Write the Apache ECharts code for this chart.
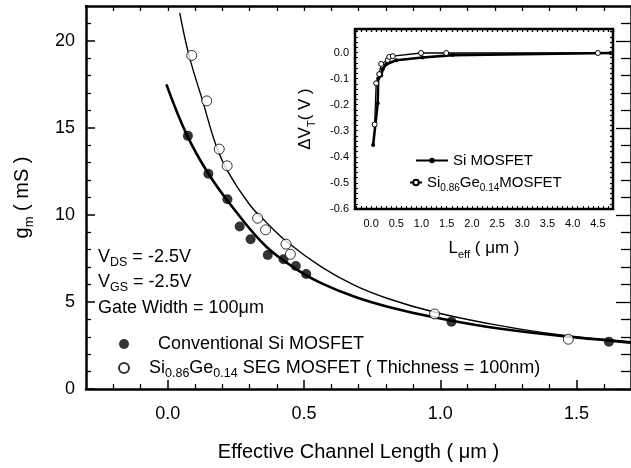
<!DOCTYPE html>
<html>
<head>
<meta charset="utf-8">
<script src="https://cdn.jsdelivr.net/npm/echarts@6/dist/echarts.min.js"></script>
<style>html,body{margin:0;padding:0;background:#fff}#chart{width:631px;height:468px}</style>
</head>
<body>
<div id="chart"></div>
<script>
var font = '"Liberation Sans", Arial, sans-serif';

// main panel : gm (mS) vs effective channel length (um)
var mainTicksX = [0, 0.5, 1.0, 1.5];
var mainTicksY = [0, 5, 10, 15, 20];
var siPoints = [[0.074,14.54],[0.149,12.36],[0.219,10.9],[0.264,9.33],[0.304,8.6],[0.367,7.7],[0.425,7.45],[0.47,7.07],[0.508,6.61],[1.041,3.87],[1.619,2.72]];
var sigePoints = [[0.088,19.16],[0.143,16.55],[0.189,13.78],[0.218,12.82],[0.33,9.81],[0.359,9.14],[0.434,8.32],[0.45,7.74],[0.979,4.31],[1.47,2.86]];
var siFit = [[-0.005,17.5],[0.07,14.6],[0.15,12.35],[0.24,10.4],[0.36,8.2],[0.48,6.8],[0.565,6.07],[0.686,5.3],[0.807,4.73],[0.977,4.12],[1.17,3.58],[1.413,3.1],[1.7,2.66]];
var sigeFit = [[0.044,21.6],[0.078,19.16],[0.128,16.55],[0.177,14.0],[0.22,12.5],[0.3,10.6],[0.36,9.6],[0.444,8.37],[0.565,7.0],[0.686,5.95],[0.807,5.2],[0.977,4.42],[1.17,3.78],[1.413,3.16],[1.7,2.72]];

// inset : delta VT (V) vs Leff (um)
var insetTicksX = [0, 0.5, 1.0, 1.5, 2.0, 2.5, 3.0, 3.5, 4.0, 4.5];
var insetTicksY = [-0.6, -0.5, -0.4, -0.3, -0.2, -0.1, 0.0];
var siInset = [[0.04,-0.355],[0.13,-0.195],[0.14,-0.10],[0.2,-0.088],[0.23,-0.064],[0.3,-0.045],[0.5,-0.03],[1.02,-0.019],[1.62,-0.01],[4.75,-0.002]];
var sigeInset = [[0.07,-0.276],[0.1,-0.118],[0.16,-0.083],[0.2,-0.044],[0.33,-0.029],[0.36,-0.017],[0.43,-0.014],[0.99,-0.002],[1.49,-0.002],[4.5,-0.002]];

function steps(from, to, step, skip) {
  var a = [];
  for (var i = 0; from + i * step <= to + 1e-9; i++) {
    var v = Math.round((from + i * step) * 1000) / 1000;
    if (!skip || skip.indexOf(v) < 0) a.push(v);
  }
  return a;
}

var black = '#000';
function sub(size, lh, subSize) {
  return {
    n: {fontSize: size, fontFamily: font, color: black, lineHeight: lh},
    s: {fontSize: subSize, fontFamily: font, color: black, verticalAlign: 'bottom'}
  };
}

// tick-only axes (minor ticks, mirrored sides)
function tickAxis(grid, pos, min, max, ticks, len, lineShow) {
  return {
    type: 'value', gridIndex: grid, position: pos, min: min, max: max,
    axisLine: {show: lineShow, onZero: false, lineStyle: {color: black, width: 2.5}},
    axisTick: {show: true, inside: true, length: len, customValues: ticks, lineStyle: {color: black, width: 1.3}},
    axisLabel: {show: false}, splitLine: {show: false}
  };
}

var chart = echarts.init(document.getElementById('chart'));

var mainX = {
  type: 'value', gridIndex: 0, position: 'bottom', min: -0.3, max: 1.7,
  axisLine: {onZero: false, lineStyle: {color: black, width: 2.5}},
  axisTick: {inside: true, length: 9, customValues: mainTicksX, lineStyle: {color: black, width: 1.5}},
  axisLabel: {customValues: mainTicksX, margin: 16, fontSize: 18, fontFamily: font, color: black,
    formatter: function (v) { return v.toFixed(1); }},
  splitLine: {show: false},
  name: 'Effective Channel Length ( \u03bcm )', nameLocation: 'middle', nameGap: 53,
  nameTextStyle: {fontSize: 20, fontFamily: font, color: black}
};
var mainY = {
  type: 'value', gridIndex: 0, position: 'left', min: 0, max: 22,
  axisLine: {onZero: false, lineStyle: {color: black, width: 2.5}},
  axisTick: {inside: true, length: 9, customValues: mainTicksY, lineStyle: {color: black, width: 1.5}},
  axisLabel: {customValues: mainTicksY, margin: 11, fontSize: 18, fontFamily: font, color: black},
  splitLine: {show: false},
  name: '{n|g}{s|m}{n| ( mS )}', nameLocation: 'middle', nameGap: 50, nameRotate: 90,
  nameTextStyle: {rich: sub(20, 28, 13)}
};
var insetX = {
  type: 'value', gridIndex: 1, position: 'bottom', min: -0.32, max: 4.8,
  axisLine: {show: false, onZero: false},
  axisTick: {inside: true, length: 3, customValues: steps(-0.3, 4.8, 0.1), lineStyle: {color: black, width: 1}},
  axisLabel: {customValues: insetTicksX, margin: 9, fontSize: 11, fontFamily: font, color: black,
    formatter: function (v) { return v.toFixed(1); }},
  splitLine: {show: false},
  name: '{n|L}{s|eff}{n| ( \u03bcm )}', nameLocation: 'middle', nameGap: 27,
  nameTextStyle: {rich: sub(17, 24, 11)}
};
var insetY = {
  type: 'value', gridIndex: 1, position: 'left', min: -0.6, max: 0.09,
  axisLine: {show: false, onZero: false},
  axisTick: {inside: true, length: 3, customValues: steps(-0.58, 0.08, 0.02), lineStyle: {color: black, width: 1}},
  axisLabel: {customValues: insetTicksY, margin: 6, fontSize: 11, fontFamily: font, color: black,
    formatter: function (v) { return v.toFixed(1); }},
  splitLine: {show: false},
  name: '{n|\u0394V}{s|T}{n|( V )}', nameLocation: 'middle', nameGap: 38, nameRotate: 90,
  nameTextStyle: {rich: sub(17, 24, 11)}
};

var legendText = {
  'Conventional Si MOSFET': '{g1|}{n|Conventional Si MOSFET}',
  'SiGe SEG': '{g2|}{n|Si}{s|0.86}{n|Ge}{s|0.14}{n| SEG MOSFET ( Thichness = 100nm)}',
  'Si MOSFET': '{m|Si MOSFET}',
  'SiGe inset': '{m|Si}{t|0.86}{m|Ge}{t|0.14}{m|MOSFET}'
};
var textRich = {
  n: {fontSize: 18, fontFamily: font, color: black, lineHeight: 25},
  s: {fontSize: 12.5, fontFamily: font, color: black, verticalAlign: 'bottom'},
  m: {fontSize: 15, fontFamily: font, color: black, lineHeight: 21},
  t: {fontSize: 10, fontFamily: font, color: black, verticalAlign: 'bottom'},
  g1: {width: 24}, g2: {width: 15}
};
function legend(name, left, top, w, h) {
  return {
    data: [name], left: left, top: top, itemWidth: w, itemHeight: h, padding: 0,
    selectedMode: false, formatter: function (n) { return legendText[n]; },
    textStyle: {rich: textRich}
  };
}

var option = {
  animation: false,
  backgroundColor: '#fff',
  grid: [
    {left: 86, top: 6, right: -4, height: 383},
    {left: 355, top: 29, width: 258, height: 180, show: true, borderColor: black, borderWidth: 2.5, backgroundColor: 'transparent'}
  ],
  xAxis: [
    mainX,
    tickAxis(0, 'bottom', -0.3, 1.7, steps(-0.2, 1.6, 0.1, mainTicksX), 5, false),
    tickAxis(0, 'top', -0.3, 1.7, steps(-0.2, 1.6, 0.1), 5, true),
    insetX,
    tickAxis(1, 'top', -0.32, 4.8, steps(-0.3, 4.8, 0.1), 3, false)
  ],
  yAxis: [
    mainY,
    tickAxis(0, 'left', 0, 22, steps(1, 21, 1, mainTicksY), 5, false),
    tickAxis(0, 'right', 0, 22, mainTicksY, 15, true),
    tickAxis(0, 'right', 0, 22, steps(1, 21, 1, mainTicksY), 10, false),
    insetY,
    tickAxis(1, 'right', -0.6, 0.09, steps(-0.58, 0.08, 0.02), 3, false)
  ],
  legend: [
    legend('Conventional Si MOSFET', 119, 335, 10, 10),
    legend('SiGe SEG', 118, 359, 10, 10),
    legend('Si MOSFET', 415, 153, 32, 7),
    legend('SiGe inset', 409, 175, 12, 7)
  ],
  graphic: [
    {type: 'text', left: 98, top: 248, style: {text: '{n|V}{s|DS}{n| = -2.5V}', rich: textRich}},
    {type: 'text', left: 98, top: 273, style: {text: '{n|V}{s|GS}{n| = -2.5V}', rich: textRich}},
    {type: 'text', left: 98, top: 299, style: {text: '{n|Gate Width = 100\u03bcm}', rich: textRich}}
  ],
  series: [
    {type: 'line', xAxisIndex: 0, yAxisIndex: 0, data: siFit, smooth: 0.4, showSymbol: false,
      lineStyle: {color: black, width: 2.6}, z: 2},
    {type: 'line', xAxisIndex: 0, yAxisIndex: 0, data: sigeFit, smooth: 0.4, showSymbol: false,
      lineStyle: {color: black, width: 1.4}, z: 2},
    {name: 'Conventional Si MOSFET', type: 'scatter', xAxisIndex: 0, yAxisIndex: 0, data: siPoints,
      symbol: 'circle', symbolSize: 10, itemStyle: {color: black}, z: 3},
    {name: 'SiGe SEG', type: 'scatter', xAxisIndex: 0, yAxisIndex: 0, data: sigePoints,
      symbol: 'circle', symbolSize: 10, itemStyle: {color: '#fff', borderColor: black, borderWidth: 1}, z: 3},
    {name: 'Si MOSFET', type: 'line', xAxisIndex: 3, yAxisIndex: 4, data: siInset,
      symbol: 'circle', symbolSize: 4, itemStyle: {color: black}, lineStyle: {color: black, width: 2.6}, z: 4},
    {name: 'SiGe inset', type: 'line', xAxisIndex: 3, yAxisIndex: 4, data: sigeInset,
      symbol: 'circle', symbolSize: 5, itemStyle: {color: '#fff', borderColor: black, borderWidth: 1},
      lineStyle: {color: black, width: 1.3}, z: 5}
  ]
};

chart.setOption(option);
window.addEventListener('resize', function () { chart.resize(); });
</script>
</body>
</html>
